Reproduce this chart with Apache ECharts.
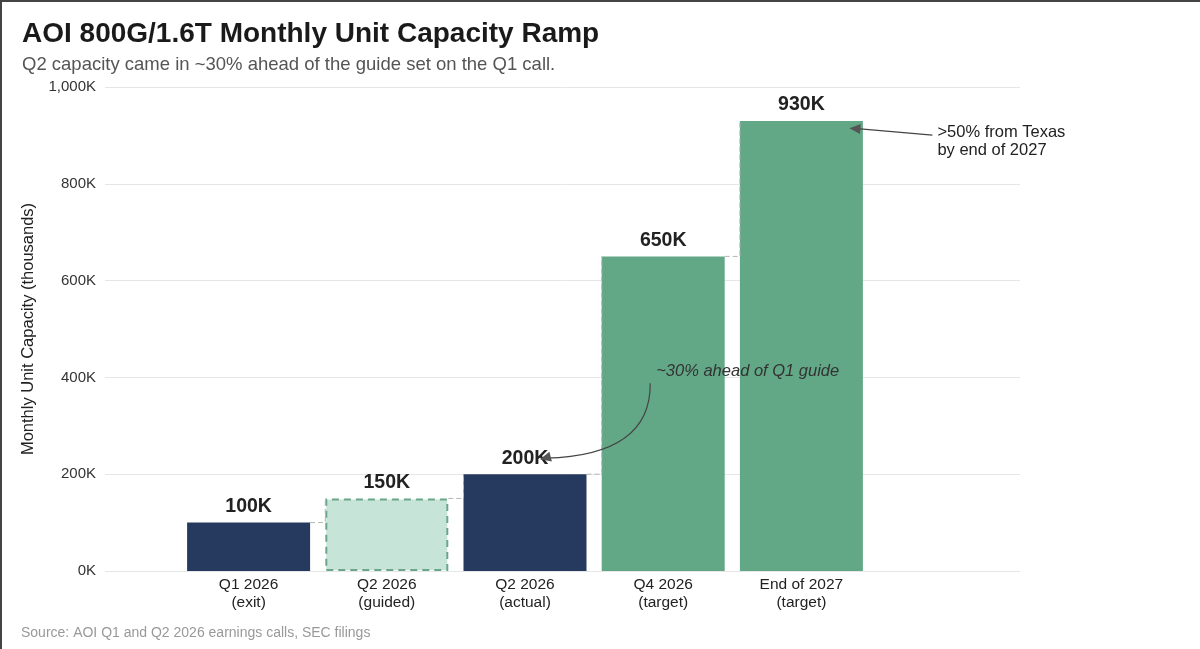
<!doctype html>
<html>
<head>
<meta charset="UTF-8">
<title>AOI 800G/1.6T Monthly Unit Capacity Ramp</title>
<script src="https://cdn.jsdelivr.net/npm/echarts@6/dist/echarts.min.js"></script>
<style>
  html, body { margin: 0; padding: 0; background: #fff; }
  #main { width: 1200px; height: 649px; }
  #frame { position: absolute; left: 0; top: 0; width: 1200px; height: 649px;
           box-sizing: border-box; border-left: 2px solid #444; border-top: 2px solid #444;
           pointer-events: none; }
</style>
</head>
<body>
<div id="main"></div>
<div id="frame"></div>
<script>
// data (thousands of units per month)
var categories = ['Q1 2026\n(exit)', 'Q2 2026\n(guided)', 'Q2 2026\n(actual)', 'Q4 2026\n(target)', 'End of 2027\n(target)'];
var capacity = [100, 150, 200, 650, 930];
var yTicks = [0, 200, 400, 600, 800, 1000];

var NAVY = '#253A5E', GREEN = '#62A887', LIGHT = '#C6E4D8', LIGHT_EDGE = '#6BA58A';
var FONT = '"Liberation Sans", Arial, sans-serif';
var BAR_RATIO = 0.89;

var barColors = [NAVY, 'guided', NAVY, GREEN, GREEN];

var barData = capacity.map(function (v, i) {
  if (barColors[i] === 'guided') {
    return { value: v, itemStyle: { color: LIGHT, borderColor: LIGHT_EDGE, borderWidth: 2, borderType: [7, 5] } };
  }
  return { value: v, itemStyle: { color: barColors[i] } };
});

// connector steps between consecutive bars
var steps = [];
for (var i = 0; i < capacity.length - 1; i++) {
  steps.push([i, capacity[i], capacity[i + 1]]);
}

var myChart = echarts.init(document.getElementById('main'));

var option = {
  animation: false,
  textStyle: { fontFamily: FONT },
  title: {
    text: 'AOI 800G/1.6T Monthly Unit Capacity Ramp',
    subtext: 'Q2 capacity came in ~30% ahead of the guide set on the Q1 call.',
    left: 17, top: 15, itemGap: 7,
    textStyle: { fontSize: 28, fontWeight: 'bold', color: '#1a1a1a', fontFamily: FONT },
    subtextStyle: { fontSize: 18.5, color: '#555', fontFamily: FONT }
  },
  grid: [
    { left: 105, right: 180, top: 87, bottom: 78 },
    { left: 179.5, right: 329.5, top: 87, bottom: 78 }
  ],
  xAxis: [
    { gridIndex: 0, type: 'value', min: 0, max: 1, show: false },
    {
      gridIndex: 1, type: 'category', data: categories,
      axisLine: { show: false }, axisTick: { show: false },
      axisLabel: { color: '#222', fontSize: 15.5, lineHeight: 18, margin: 5, fontFamily: FONT }
    }
  ],
  yAxis: [
    {
      gridIndex: 0, type: 'value', min: yTicks[0], max: yTicks[yTicks.length - 1], interval: 200,
      name: 'Monthly Unit Capacity (thousands)', nameLocation: 'middle', nameGap: 68,
      nameTextStyle: { fontSize: 16.5, color: '#222', fontFamily: FONT },
      axisLine: { show: false }, axisTick: { show: false },
      axisLabel: {
        color: '#333', fontSize: 15, margin: 9, fontFamily: FONT,
        formatter: function (v) { return v.toLocaleString('en-US') + 'K'; }
      },
      splitLine: { lineStyle: { color: '#e6e6e6', width: 1 } }
    },
    { gridIndex: 1, type: 'value', min: 0, max: 1000, show: false, splitLine: { show: false } }
  ],
  series: [
    {
      type: 'bar', xAxisIndex: 1, yAxisIndex: 1,
      barWidth: (BAR_RATIO * 100) + '%',
      data: barData,
      z: 2,
      label: {
        show: true, position: 'top', distance: 6,
        fontSize: 19.5, fontWeight: 'bold', color: '#222', fontFamily: FONT,
        formatter: function (p) { return p.value + 'K'; }
      }
    },
    {
      type: 'custom', xAxisIndex: 1, yAxisIndex: 1, z: 3, silent: true,
      data: steps,
      renderItem: function (params, api) {
        var band = api.size([1, 0])[0];
        var half = band * BAR_RATIO / 2;
        var a = api.coord([api.value(0), api.value(1)]);
        var b = api.coord([api.value(0) + 1, api.value(2)]);
        return {
          type: 'polyline',
          shape: { points: [[a[0] + half, a[1]], [b[0] - half, a[1]], [b[0] - half, b[1]]] },
          style: { stroke: '#b5b5b5', lineWidth: 1, lineDash: [5, 3], fill: null }
        };
      }
    }
  ]
};

myChart.setOption(option);

// annotations anchored to the bars
function px(idx, val) { return myChart.convertToPixel({ xAxisIndex: 1, yAxisIndex: 1 }, [idx, val]); }
var p3 = px(3, 413);
var start = px(3, 388);
var end = px(2, 231);
var topBar = px(4, 915);
var ax0 = [topBar[0] + 48, topBar[1]];
var ax1 = [topBar[0] + 131, topBar[1] + 7];

function arrowHead(tip, from, color) {
  var dx = tip[0] - from[0], dy = tip[1] - from[1];
  var len = Math.sqrt(dx * dx + dy * dy);
  var ux = dx / len, uy = dy / len;
  var L = 11, W = 5;
  return {
    type: 'polygon', silent: true, z: 10,
    shape: { points: [tip, [tip[0] - ux * L - uy * W, tip[1] - uy * L + ux * W], [tip[0] - ux * L + uy * W, tip[1] - uy * L - ux * W]] },
    style: { fill: color }
  };
}

var endPt = [end[0] + 15, end[1]];
var cp = [start[0] - 12, start[1] + 72];

myChart.setOption({
  graphic: [
    {
      type: 'text', left: 21, top: 626, silent: true,
      style: { text: 'Source: AOI Q1 and Q2 2026 earnings calls, SEC filings', fontSize: 14, fill: '#999', fontFamily: FONT }
    },
    {
      type: 'text', x: p3[0] - 7, y: p3[1], silent: true, z: 10,
      style: { text: '~30% ahead of Q1 guide', fontSize: 16.5, fontStyle: 'italic', fill: '#333', fontFamily: FONT, verticalAlign: 'middle' }
    },
    {
      type: 'bezierCurve', silent: true, z: 10,
      shape: { x1: start[0] - 13, y1: start[1], x2: endPt[0] + 6, y2: endPt[1] - 1, cpx1: cp[0], cpy1: cp[1] },
      style: { stroke: '#444', lineWidth: 1.2, fill: null }
    },
    arrowHead(endPt, [endPt[0] + 12, endPt[1] - 3], '#555'),
    {
      type: 'text', x: ax1[0] + 5, y: ax1[1] - 12, silent: true, z: 10,
      style: { text: '>50% from Texas\nby end of 2027', fontSize: 16.5, lineHeight: 18, fill: '#222', fontFamily: FONT }
    },
    {
      type: 'line', silent: true, z: 10,
      shape: { x1: ax1[0], y1: ax1[1], x2: ax0[0] + 8, y2: ax0[1] + 0.5 },
      style: { stroke: '#444', lineWidth: 1.2 }
    },
    arrowHead(ax0, ax1, '#555')
  ]
});
</script>
</body>
</html>
